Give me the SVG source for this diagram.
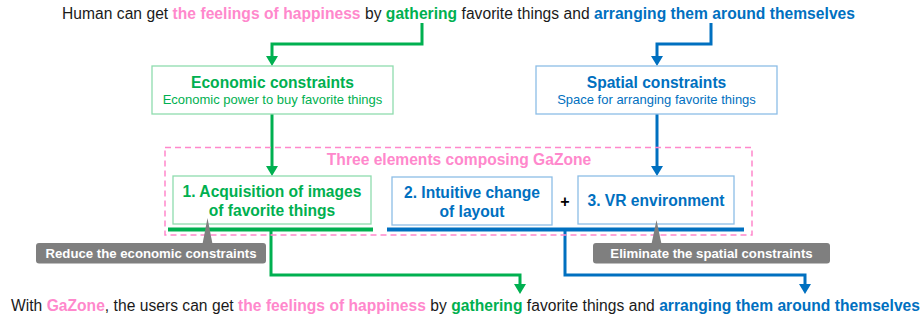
<svg xmlns="http://www.w3.org/2000/svg" width="923" height="320" viewBox="0 0 923 320">
<defs>
<style>
text{font-family:"Liberation Sans",Arial,sans-serif}
.main{font-size:15.6px;fill:#1a1a1a}
.pk{fill:#FF88CC;font-weight:bold}
.gr{fill:#00B050;font-weight:bold}
.bl{fill:#0070C0;font-weight:bold}
.gline{fill:none;stroke:#00B050;stroke-width:3}
.bline{fill:none;stroke:#0070C0;stroke-width:3}
.gbox{fill:#fff;stroke:#8FDCAE;stroke-width:1.3}
.bbox{fill:#fff;stroke:#8DBDE6;stroke-width:1.3}
.t1{font-size:15.6px;font-weight:bold;text-anchor:middle}
.t2{font-size:13px;text-anchor:middle}
.call{fill:#7F7F7F}
.ct{font-size:13.2px;font-weight:bold;fill:#fff;text-anchor:middle}
</style>
</defs>
<text class="main" x="62" y="19" textLength="793" lengthAdjust="spacing">Human can get <tspan class="pk">the feelings of happiness</tspan> by <tspan class="gr">gathering</tspan> favorite things and <tspan class="bl">arranging them around themselves</tspan></text>
<g id="connectors">
<polyline class="gline" points="422,23 422,44 272,44 272,57"/>
<polygon points="266,56 278,56 272,66" fill="#00B050"/>
<polyline class="bline" points="711,23 711,44 657,44 657,57"/>
<polygon points="651,56 663,56 657,66" fill="#0070C0"/>
<polyline class="gline" points="272,114 272,167"/>
<polygon points="266,166 278,166 272,176" fill="#00B050"/>
<polyline class="bline" points="657,114 657,167"/>
<polygon points="651,166 663,166 657,176" fill="#0070C0"/>
<line x1="168" y1="229.5" x2="373" y2="229.5" stroke="#00B050" stroke-width="4"/>
<line x1="387" y1="229.5" x2="744" y2="229.5" stroke="#0070C0" stroke-width="4"/>
<polyline class="gline" points="271,229 271,275 520,275 520,285"/>
<polygon points="514,284 526,284 520,294" fill="#00B050"/>
<polyline class="bline" points="565,229 565,275 805,275 805,285"/>
<polygon points="799,284 811,284 805,294" fill="#0070C0"/>
</g>
<g id="econ">
<rect class="gbox" x="152" y="66" width="241" height="48"/>
<text class="t1" x="272.5" y="87.5" fill="#00B050">Economic constraints</text>
<text class="t2" x="272.5" y="104" fill="#00B050">Economic power to buy favorite things</text>
</g>
<g id="spatial">
<rect class="bbox" x="536" y="66" width="241" height="48"/>
<text class="t1" x="656.5" y="87.5" fill="#0070C0">Spatial constraints</text>
<text class="t2" x="656.5" y="104" fill="#0070C0">Space for arranging favorite things</text>
</g>
<g id="gazone">
<rect x="165" y="147.5" width="587" height="87.5" fill="none" stroke="#FF88CC" stroke-width="1.5" stroke-dasharray="6,4"/>
<text x="459" y="164.5" font-size="15.6" font-weight="bold" fill="#FF88CC" text-anchor="middle">Three elements composing GaZone</text>
</g>
<g id="el1">
<rect class="gbox" x="173" y="176" width="198" height="48"/>
<text class="t1" x="272" y="196.5" fill="#00B050">1. Acquisition of images</text>
<text class="t1" x="272" y="215.5" fill="#00B050">of favorite things</text>
</g>
<g id="el2">
<rect class="bbox" x="392" y="177" width="160" height="48"/>
<text class="t1" x="472" y="197.5" fill="#0070C0">2. Intuitive change</text>
<text class="t1" x="472" y="216.5" fill="#0070C0">of layout</text>
</g>
<text x="565" y="207" font-size="16" font-weight="bold" fill="#000" text-anchor="middle">+</text>
<g id="el3">
<rect class="bbox" x="578" y="176" width="156" height="48"/>
<text class="t1" x="656" y="205.5" fill="#0070C0">3. VR environment</text>
</g>
<g id="callout1">
<rect class="call" x="36" y="243" width="230" height="20.5" rx="3"/>
<polygon class="call" points="202.5,244 212.5,244 207.5,218"/>
<text class="ct" x="151" y="258">Reduce the economic constraints</text>
</g>
<g id="callout2">
<rect class="call" x="593" y="243" width="237" height="20.5" rx="3"/>
<polygon class="call" points="651.5,244 661.5,244 656.5,220"/>
<text class="ct" x="711.5" y="258">Eliminate the spatial constraints</text>
</g>
<text class="main" x="11" y="310.5" textLength="909" lengthAdjust="spacing">With <tspan class="pk">GaZone</tspan>, the users can get <tspan class="pk">the feelings of happiness</tspan> by <tspan class="gr">gathering</tspan> favorite things and <tspan class="bl">arranging them around themselves</tspan></text>
</svg>
